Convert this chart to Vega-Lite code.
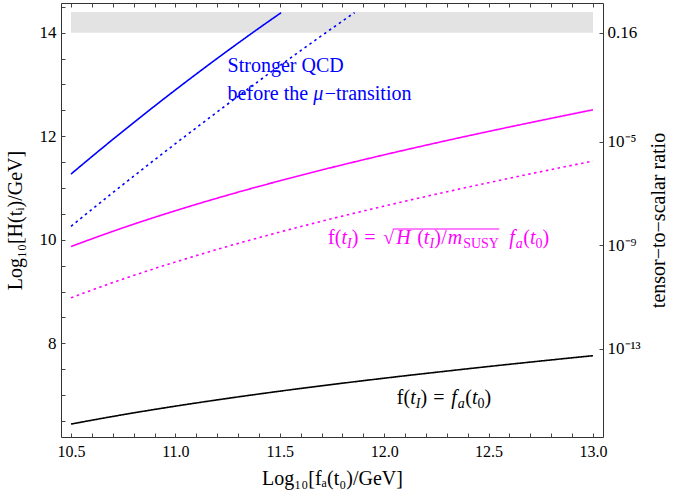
{
  "$schema": "https://vega.github.io/schema/vega-lite/v6.json",
  "width": 542,
  "height": 434,
  "autosize": {"type": "none"},
  "padding": {"left": 61, "top": 3, "right": 71, "bottom": 61},
  "config": {
    "font": "Liberation Serif",
    "view": {"stroke": "#333", "strokeWidth": 1},
    "style": {"guide-label": {"font": "Liberation Serif, serif", "fontSize": 16, "fill": "#000"}, "guide-title": {"font": "Liberation Serif, serif", "fontSize": 20}},
    "axis": {
      "labelFont": "Liberation Serif, serif",
      "labelFontSize": 16,
      "labelColor": "#000",
      "titleFont": "Liberation Serif, serif",
      "titleFontSize": 20,
      "titleFontWeight": "normal",
      "titleColor": "#000",
      "tickColor": "#444",
      "tickSize": -4,
      "domain": false,
      "grid": false,
      "labelFlush": false,
      "labelOverlap": false,
      "labelBound": false
    }
  },
  "datasets": {
    "band": [{"x1": 10.5, "x2": 13.0, "y1": 14.0, "y2": 14.4}],
    "curves": [
      {"group": "strongQCD", "variant": "solid", "curve": "bs", "x": 10.5, "y": 11.27},
      {"group": "strongQCD", "variant": "solid", "curve": "bs", "x": 10.6, "y": 11.607},
      {"group": "strongQCD", "variant": "solid", "curve": "bs", "x": 10.7, "y": 11.938},
      {"group": "strongQCD", "variant": "solid", "curve": "bs", "x": 10.8, "y": 12.263},
      {"group": "strongQCD", "variant": "solid", "curve": "bs", "x": 10.9, "y": 12.582},
      {"group": "strongQCD", "variant": "solid", "curve": "bs", "x": 11.0, "y": 12.895},
      {"group": "strongQCD", "variant": "solid", "curve": "bs", "x": 11.1, "y": 13.202},
      {"group": "strongQCD", "variant": "solid", "curve": "bs", "x": 11.2, "y": 13.503},
      {"group": "strongQCD", "variant": "solid", "curve": "bs", "x": 11.3, "y": 13.798},
      {"group": "strongQCD", "variant": "solid", "curve": "bs", "x": 11.4, "y": 14.087},
      {"group": "strongQCD", "variant": "solid", "curve": "bs", "x": 11.506, "y": 14.386},
      {"group": "strongQCD", "variant": "dotted", "curve": "bd", "x": 10.5, "y": 10.26},
      {"group": "strongQCD", "variant": "dotted", "curve": "bd", "x": 10.6, "y": 10.586},
      {"group": "strongQCD", "variant": "dotted", "curve": "bd", "x": 10.7, "y": 10.909},
      {"group": "strongQCD", "variant": "dotted", "curve": "bd", "x": 10.8, "y": 11.228},
      {"group": "strongQCD", "variant": "dotted", "curve": "bd", "x": 10.9, "y": 11.544},
      {"group": "strongQCD", "variant": "dotted", "curve": "bd", "x": 11.0, "y": 11.856},
      {"group": "strongQCD", "variant": "dotted", "curve": "bd", "x": 11.1, "y": 12.164},
      {"group": "strongQCD", "variant": "dotted", "curve": "bd", "x": 11.2, "y": 12.469},
      {"group": "strongQCD", "variant": "dotted", "curve": "bd", "x": 11.3, "y": 12.771},
      {"group": "strongQCD", "variant": "dotted", "curve": "bd", "x": 11.4, "y": 13.069},
      {"group": "strongQCD", "variant": "dotted", "curve": "bd", "x": 11.5, "y": 13.363},
      {"group": "strongQCD", "variant": "dotted", "curve": "bd", "x": 11.6, "y": 13.654},
      {"group": "strongQCD", "variant": "dotted", "curve": "bd", "x": 11.7, "y": 13.941},
      {"group": "strongQCD", "variant": "dotted", "curve": "bd", "x": 11.8, "y": 14.225},
      {"group": "strongQCD", "variant": "dotted", "curve": "bd", "x": 11.858, "y": 14.388},
      {"group": "sqrt", "variant": "solid", "curve": "ms", "x": 10.5, "y": 9.87},
      {"group": "sqrt", "variant": "solid", "curve": "ms", "x": 10.75, "y": 10.233},
      {"group": "sqrt", "variant": "solid", "curve": "ms", "x": 11.0, "y": 10.561},
      {"group": "sqrt", "variant": "solid", "curve": "ms", "x": 11.25, "y": 10.862},
      {"group": "sqrt", "variant": "solid", "curve": "ms", "x": 11.5, "y": 11.139},
      {"group": "sqrt", "variant": "solid", "curve": "ms", "x": 11.75, "y": 11.398},
      {"group": "sqrt", "variant": "solid", "curve": "ms", "x": 12.0, "y": 11.641},
      {"group": "sqrt", "variant": "solid", "curve": "ms", "x": 12.25, "y": 11.872},
      {"group": "sqrt", "variant": "solid", "curve": "ms", "x": 12.5, "y": 12.093},
      {"group": "sqrt", "variant": "solid", "curve": "ms", "x": 12.75, "y": 12.305},
      {"group": "sqrt", "variant": "solid", "curve": "ms", "x": 13.0, "y": 12.511},
      {"group": "sqrt", "variant": "dotted", "curve": "md", "x": 10.5, "y": 8.88},
      {"group": "sqrt", "variant": "dotted", "curve": "md", "x": 10.75, "y": 9.243},
      {"group": "sqrt", "variant": "dotted", "curve": "md", "x": 11.0, "y": 9.571},
      {"group": "sqrt", "variant": "dotted", "curve": "md", "x": 11.25, "y": 9.872},
      {"group": "sqrt", "variant": "dotted", "curve": "md", "x": 11.5, "y": 10.149},
      {"group": "sqrt", "variant": "dotted", "curve": "md", "x": 11.75, "y": 10.408},
      {"group": "sqrt", "variant": "dotted", "curve": "md", "x": 12.0, "y": 10.651},
      {"group": "sqrt", "variant": "dotted", "curve": "md", "x": 12.25, "y": 10.882},
      {"group": "sqrt", "variant": "dotted", "curve": "md", "x": 12.5, "y": 11.103},
      {"group": "sqrt", "variant": "dotted", "curve": "md", "x": 12.75, "y": 11.315},
      {"group": "sqrt", "variant": "dotted", "curve": "md", "x": 13.0, "y": 11.521},
      {"group": "equal", "variant": "solid", "curve": "k", "x": 10.5, "y": 6.44},
      {"group": "equal", "variant": "solid", "curve": "k", "x": 10.75, "y": 6.622},
      {"group": "equal", "variant": "solid", "curve": "k", "x": 11.0, "y": 6.786},
      {"group": "equal", "variant": "solid", "curve": "k", "x": 11.25, "y": 6.936},
      {"group": "equal", "variant": "solid", "curve": "k", "x": 11.5, "y": 7.075},
      {"group": "equal", "variant": "solid", "curve": "k", "x": 11.75, "y": 7.204},
      {"group": "equal", "variant": "solid", "curve": "k", "x": 12.0, "y": 7.326},
      {"group": "equal", "variant": "solid", "curve": "k", "x": 12.25, "y": 7.441},
      {"group": "equal", "variant": "solid", "curve": "k", "x": 12.5, "y": 7.552},
      {"group": "equal", "variant": "solid", "curve": "k", "x": 12.75, "y": 7.658},
      {"group": "equal", "variant": "solid", "curve": "k", "x": 13.0, "y": 7.761}
    ],
    "mainUpright": [
      {"group": "strongQCD", "x": 11.25, "y": 13.24, "text": "Stronger QCD"},
      {"group": "strongQCD", "x": 11.25, "y": 12.70, "text": "before the "},
      {"group": "strongQCD", "x": 11.7147, "y": 12.70, "text": "−transition"},
      {"group": "sqrt", "x": 11.7314, "y": 9.918, "text": "f("},
      {"group": "sqrt", "x": 11.844, "y": 9.918, "text": ")"},
      {"group": "sqrt", "x": 11.9039, "y": 9.918, "text": "="},
      {"group": "sqrt", "x": 11.995, "y": 9.918, "text": "√"},
      {"group": "sqrt", "x": 12.1579, "y": 9.918, "text": "("},
      {"group": "sqrt", "x": 12.2394, "y": 9.918, "text": ")"},
      {"group": "sqrt", "x": 12.2729, "y": 9.918, "text": "/"},
      {"group": "sqrt", "x": 12.6658, "y": 9.918, "text": "("},
      {"group": "sqrt", "x": 12.7582, "y": 9.918, "text": ")"},
      {"group": "equal", "x": 12.0606, "y": 6.822, "text": "f("},
      {"group": "equal", "x": 12.1737, "y": 6.822, "text": ")"},
      {"group": "equal", "x": 12.2345, "y": 6.822, "text": "="},
      {"group": "equal", "x": 12.3879, "y": 6.822, "text": "("},
      {"group": "equal", "x": 12.4804, "y": 6.822, "text": ")"}
    ],
    "mainItalic": [
      {"group": "strongQCD", "x": 11.6596, "y": 12.70, "text": "μ"},
      {"group": "sqrt", "x": 11.7952, "y": 9.918, "text": "t"},
      {"group": "sqrt", "x": 12.0573, "y": 9.918, "text": "H"},
      {"group": "sqrt", "x": 12.19, "y": 9.918, "text": "t"},
      {"group": "sqrt", "x": 12.3041, "y": 9.918, "text": "m"},
      {"group": "sqrt", "x": 12.5987, "y": 9.918, "text": "f"},
      {"group": "sqrt", "x": 12.6979, "y": 9.918, "text": "t"},
      {"group": "equal", "x": 12.1243, "y": 6.822, "text": "t"},
      {"group": "equal", "x": 12.3208, "y": 6.822, "text": "f"},
      {"group": "equal", "x": 12.42, "y": 6.822, "text": "t"}
    ],
    "subItalic": [
      {"group": "sqrt", "x": 11.822, "y": 9.918, "text": "I"},
      {"group": "sqrt", "x": 12.2169, "y": 9.918, "text": "I"},
      {"group": "sqrt", "x": 12.6298, "y": 9.918, "text": "a"},
      {"group": "equal", "x": 12.1512, "y": 6.822, "text": "I"},
      {"group": "equal", "x": 12.3519, "y": 6.822, "text": "a"}
    ],
    "subUpright": [
      {"group": "sqrt", "x": 12.3783, "y": 9.918, "text": "SUSY"},
      {"group": "sqrt", "x": 12.7247, "y": 9.918, "text": "0"},
      {"group": "equal", "x": 12.4468, "y": 6.822, "text": "0"}
    ],
    "overline": [{"group": "sqrt", "x1": 12.048, "x2": 12.551, "y": 10.208}]
  },
  "resolve": {"axis": {"x": "independent", "y": "independent"}},
  "layer": [
    {
      "data": {"name": "band"},
      "mark": {"type": "rect", "color": "#e3e3e3"},
      "encoding": {
        "x": {
          "field": "x1", "type": "quantitative",
          "scale": {"domain": [10.452, 13.048], "nice": false, "zero": false},
          "axis": {
            "orient": "top", "title": null, "labels": false,
            "values": [10.5,10.6,10.7,10.8,10.9,11,11.1,11.2,11.3,11.4,11.5,11.6,11.7,11.8,11.9,12,12.1,12.2,12.3,12.4,12.5,12.6,12.7,12.8,12.9,13]
          }
        },
        "x2": {"field": "x2"},
        "y": {
          "field": "y1", "type": "quantitative",
          "scale": {"domain": [6.19, 14.574], "nice": false, "zero": false},
          "axis": {
            "orient": "right",
            "values": [14, 11.898, 9.898, 7.898],
            "labelExpr": "datum.value > 13 ? '0.16' : datum.value > 11 ? '10⁻⁵' : datum.value > 9 ? '10⁻⁹' : '10⁻¹³'",
            "labelFont": "Liberation Serif, serif",
            "labelFontSize": 17,
            "labelColor": "#000",
            "labelPadding": 8,
            "title": "tensor−to−scalar ratio",
            "titleFont": "Liberation Serif, serif",
            "titleFontSize": 20,
            "titleAngle": 270,
            "titleBaseline": "top",
            "titlePadding": 8
          }
        },
        "y2": {"field": "y2"}
      }
    },
    {
      "data": {"name": "curves"},
      "mark": {"type": "line", "strokeWidth": 1.6, "interpolate": "monotone"},
      "encoding": {
        "x": {
          "field": "x", "type": "quantitative",
          "scale": {"domain": [10.452, 13.048], "nice": false, "zero": false},
          "axis": {
            "orient": "bottom",
            "title": "Log₁₀[fₐ(t₀)/GeV]",
            "titleFont": "Liberation Serif, serif",
            "titleFontSize": 20,
            "values": [10.5,10.6,10.7,10.8,10.9,11,11.1,11.2,11.3,11.4,11.5,11.6,11.7,11.8,11.9,12,12.1,12.2,12.3,12.4,12.5,12.6,12.7,12.8,12.9,13],
            "labelExpr": "abs(datum.value*2 - round(datum.value*2)) < 0.01 ? format(datum.value, '.1f') : ''",
            "labelFont": "Liberation Serif, serif",
            "labelFontSize": 16,
            "labelColor": "#000",
            "labelPadding": 10,
            "titlePadding": 9
          }
        },
        "y": {
          "field": "y", "type": "quantitative",
          "scale": {"domain": [6.19, 14.574], "nice": false, "zero": false},
          "axis": {
            "orient": "left",
            "title": "Log₁₀[H(tᵢ)/GeV]",
            "titleFont": "Liberation Serif, serif",
            "titleFontSize": 20,
            "values": [6.5,7,7.5,8,8.5,9,9.5,10,10.5,11,11.5,12,12.5,13,13.5,14,14.5],
            "labelExpr": "datum.value % 2 == 0 ? format(datum.value, 'd') : ''",
            "labelFont": "Liberation Serif, serif",
            "labelFontSize": 17,
            "labelColor": "#000",
            "labelPadding": 9,
            "titlePadding": 14
          }
        },
        "color": {
          "field": "group", "type": "nominal",
          "scale": {"domain": ["strongQCD", "sqrt", "equal"], "range": ["#0000ff", "#ff00ff", "#000000"]},
          "legend": null
        },
        "strokeDash": {
          "field": "variant", "type": "nominal",
          "scale": {"domain": ["solid", "dotted"], "range": [[1, 0], [2.5, 3.5]]},
          "legend": null
        },
        "detail": {"field": "curve"}
      }
    },
    {
      "data": {"name": "overline"},
      "mark": {"type": "rule", "strokeWidth": 1},
      "encoding": {
        "x": {"field": "x1", "type": "quantitative", "axis": null},
        "x2": {"field": "x2"},
        "y": {"field": "y", "type": "quantitative", "axis": null},
        "color": {"field": "group", "type": "nominal", "legend": null}
      }
    },
    {
      "data": {"name": "mainUpright"},
      "mark": {"type": "text", "align": "left", "baseline": "alphabetic", "fontSize": 20, "font": "Liberation Serif"},
      "encoding": {
        "x": {"field": "x", "type": "quantitative", "axis": null},
        "y": {"field": "y", "type": "quantitative", "axis": null},
        "text": {"field": "text"},
        "color": {"field": "group", "type": "nominal", "legend": null}
      }
    },
    {
      "data": {"name": "mainItalic"},
      "mark": {"type": "text", "align": "left", "baseline": "alphabetic", "fontSize": 20, "fontStyle": "italic", "font": "Liberation Serif"},
      "encoding": {
        "x": {"field": "x", "type": "quantitative", "axis": null},
        "y": {"field": "y", "type": "quantitative", "axis": null},
        "text": {"field": "text"},
        "color": {"field": "group", "type": "nominal", "legend": null}
      }
    },
    {
      "data": {"name": "subItalic"},
      "mark": {"type": "text", "align": "left", "baseline": "alphabetic", "fontSize": 14, "fontStyle": "italic", "dy": 4, "font": "Liberation Serif"},
      "encoding": {
        "x": {"field": "x", "type": "quantitative", "axis": null},
        "y": {"field": "y", "type": "quantitative", "axis": null},
        "text": {"field": "text"},
        "color": {"field": "group", "type": "nominal", "legend": null}
      }
    },
    {
      "data": {"name": "subUpright"},
      "mark": {"type": "text", "align": "left", "baseline": "alphabetic", "fontSize": 14, "dy": 4, "font": "Liberation Serif"},
      "encoding": {
        "x": {"field": "x", "type": "quantitative", "axis": null},
        "y": {"field": "y", "type": "quantitative", "axis": null},
        "text": {"field": "text"},
        "color": {"field": "group", "type": "nominal", "legend": null}
      }
    }
  ]
}
